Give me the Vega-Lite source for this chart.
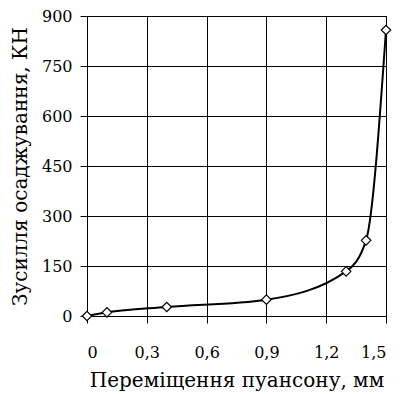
{
  "$schema": "https://vega.github.io/schema/vega-lite/v6.json",
  "autosize": "none",
  "width": 299,
  "height": 300,
  "padding": {"left": 87, "top": 16, "right": 16, "bottom": 78},
  "background": "white",
  "config": {
    "font": "DejaVu Serif",
    "view": {"stroke": "black", "strokeWidth": 1},
    "axis": {
      "grid": true,
      "gridColor": "#000000",
      "gridOpacity": 1,
      "gridWidth": 1,
      "domainColor": "#000000",
      "tickColor": "#000000",
      "tickSize": 7,
      "labelFont": "DejaVu Serif",
      "titleFont": "DejaVu Serif",
      "labelColor": "black",
      "titleColor": "black",
      "titleFontWeight": "normal",
      "labelFontSize": 16,
      "titleFontSize": 20
    }
  },
  "data": {
    "values": [
      {"x": 0, "y": 0},
      {"x": 0.1, "y": 11},
      {"x": 0.4, "y": 27},
      {"x": 0.9, "y": 49},
      {"x": 1.3, "y": 134},
      {"x": 1.4, "y": 227},
      {"x": 1.5, "y": 858}
    ]
  },
  "layer": [
    {
      "mark": {"type": "line", "color": "black", "strokeWidth": 2, "interpolate": "monotone"},
      "encoding": {
        "x": {"field": "x", "type": "quantitative"},
        "y": {"field": "y", "type": "quantitative"}
      }
    },
    {
      "mark": {"type": "point", "shape": "diamond", "filled": true, "fill": "white", "stroke": "black", "strokeWidth": 1.2, "size": 90, "opacity": 1},
      "encoding": {
        "x": {
          "field": "x", "type": "quantitative",
          "scale": {"domain": [0, 1.5], "nice": false, "zero": true},
          "axis": {
            "values": [0, 0.3, 0.6, 0.9, 1.2, 1.5],
            "labelExpr": "datum.value == 0 ? '0' : replace(format(datum.value, '.1f'), '.', ',')",
            "labelPadding": 21,
            "title": "Переміщення пуансону, мм",
            "titlePadding": 10
          }
        },
        "y": {
          "field": "y", "type": "quantitative",
          "scale": {"domain": [0, 900], "nice": false},
          "axis": {
            "values": [0, 150, 300, 450, 600, 750, 900],
            "labelPadding": 8,
            "title": "Зусилля осаджування, КН",
            "titlePadding": 11
          }
        }
      }
    }
  ]
}
